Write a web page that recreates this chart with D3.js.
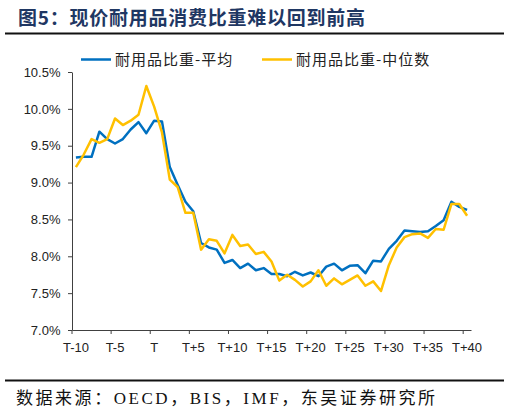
<!DOCTYPE html>
<html><head><meta charset="utf-8">
<script src="https://cdn.jsdelivr.net/npm/d3@7/dist/d3.min.js"></script>
<style>body{margin:0;background:#fff}</style>
</head><body>
<svg id="c" width="510" height="413"></svg>
<script>
const categories = ["T-10","T-9","T-8","T-7","T-6","T-5","T-4","T-3","T-2","T-1","T",
  "T+1","T+2","T+3","T+4","T+5","T+6","T+7","T+8","T+9","T+10",
  "T+11","T+12","T+13","T+14","T+15","T+16","T+17","T+18","T+19","T+20",
  "T+21","T+22","T+23","T+24","T+25","T+26","T+27","T+28","T+29","T+30",
  "T+31","T+32","T+33","T+34","T+35","T+36","T+37","T+38","T+39","T+40"];
const meanShare = [9.34,9.35,9.35,9.69,9.59,9.53,9.59,9.72,9.82,9.67,9.84,
  9.83,9.21,8.97,8.74,8.61,8.18,8.12,8.09,7.91,7.95,
  7.84,7.90,7.81,7.84,7.76,7.76,7.73,7.79,7.74,7.78,
  7.73,7.86,7.90,7.81,7.87,7.88,7.77,7.94,7.93,8.10,
  8.21,8.35,8.34,8.33,8.34,8.41,8.49,8.74,8.67,8.63];
const medianShare = [9.21,9.38,9.59,9.54,9.59,9.87,9.78,9.84,9.92,10.31,10.03,
  9.68,9.04,8.94,8.59,8.59,8.09,8.23,8.21,8.04,8.29,
  8.14,8.16,8.03,8.06,7.93,7.67,7.75,7.68,7.59,7.66,
  7.81,7.60,7.70,7.62,7.68,7.74,7.60,7.66,7.53,7.88,
  8.12,8.26,8.30,8.31,8.25,8.37,8.36,8.71,8.71,8.55];
const xTickLabels = ["T-10","T-5","T","T+5","T+10","T+15","T+20","T+25","T+30","T+35","T+40"];
const yTicks = [7.0,7.5,8.0,8.5,9.0,9.5,10.0,10.5];
const seriesNames = ["耐用品比重-平均","耐用品比重-中位数"];
const titleText = "图5：现价耐用品消费比重难以回到前高";
const sourceText = "数据来源：OECD，BIS，IMF，东吴证券研究所";

const svg = d3.select("#c");
svg.append("rect").attr("width",510).attr("height",413).attr("fill","#fff");

const x = d3.scaleBand().domain(categories).range([72,471]).padding(0);
const bw = x.bandwidth();
const y = d3.scaleLinear().domain([7,10.5]).range([330,72]);

// title
svg.append("text").attr("x",18).attr("y",25)
  .attr("font-family","'Noto Sans CJK SC', sans-serif").attr("font-weight","bold")
  .attr("font-size",19).attr("fill","#1f3763")
  .attr("textLength",347).attr("lengthAdjust","spacing")
  .text(titleText);
svg.append("line").attr("x1",5).attr("x2",504).attr("y1",33.5).attr("y2",33.5)
  .attr("stroke","#111").attr("stroke-width",2);

// axes
const ax = svg.append("g").attr("transform","translate(0,330)")
  .call(d3.axisBottom(x).tickValues(xTickLabels).tickSize(4).tickSizeOuter(0).tickPadding(8.5));
ax.selectAll(".tick line").attr("x1",-bw/2).attr("x2",-bw/2);
const ay = svg.append("g").attr("transform","translate(72,0)")
  .call(d3.axisLeft(y).tickValues(yTicks).tickSize(4).tickSizeOuter(0).tickPadding(7.5)
    .tickFormat(d=>d.toFixed(1)+"%"));
[ax,ay].forEach(g=>{
  g.selectAll("path.domain").attr("stroke","#404040");
  g.selectAll(".tick line").attr("stroke","#404040");
  g.selectAll(".tick text").attr("font-family","'Liberation Sans', Arial, sans-serif")
    .attr("font-size",13).attr("fill","#222");
});

// lines
const colors = ["#0070C0","#FFC000"];
const line = d3.line().x((d,i)=>x(categories[i])+bw/2).y(d=>y(d));
[meanShare, medianShare].forEach((s,k)=>{
  svg.append("path").datum(s).attr("d",line).attr("fill","none")
    .attr("stroke",colors[k]).attr("stroke-width",2.5).attr("stroke-linejoin","round");
});

// legend
const legX = [81,262];
seriesNames.forEach((n,k)=>{
  svg.append("line").attr("x1",legX[k]).attr("x2",legX[k]+30).attr("y1",59.5).attr("y2",59.5)
    .attr("stroke",colors[k]).attr("stroke-width",2.5);
  svg.append("text").attr("x",legX[k]+34).attr("y",65)
    .attr("font-family","'Noto Sans CJK SC', sans-serif").attr("font-size",15)
    .attr("letter-spacing",1).attr("fill","#222").text(n);
});

// source
svg.append("line").attr("x1",5).attr("x2",504).attr("y1",380.5).attr("y2",380.5)
  .attr("stroke","#111").attr("stroke-width",2);
svg.append("text").attr("x",16).attr("y",404)
  .attr("font-family","'Liberation Serif', 'Noto Sans CJK SC', serif").attr("font-size",17)
  .attr("fill","#111").attr("textLength",419).attr("lengthAdjust","spacing")
  .text(sourceText);
</script>
</body></html>
